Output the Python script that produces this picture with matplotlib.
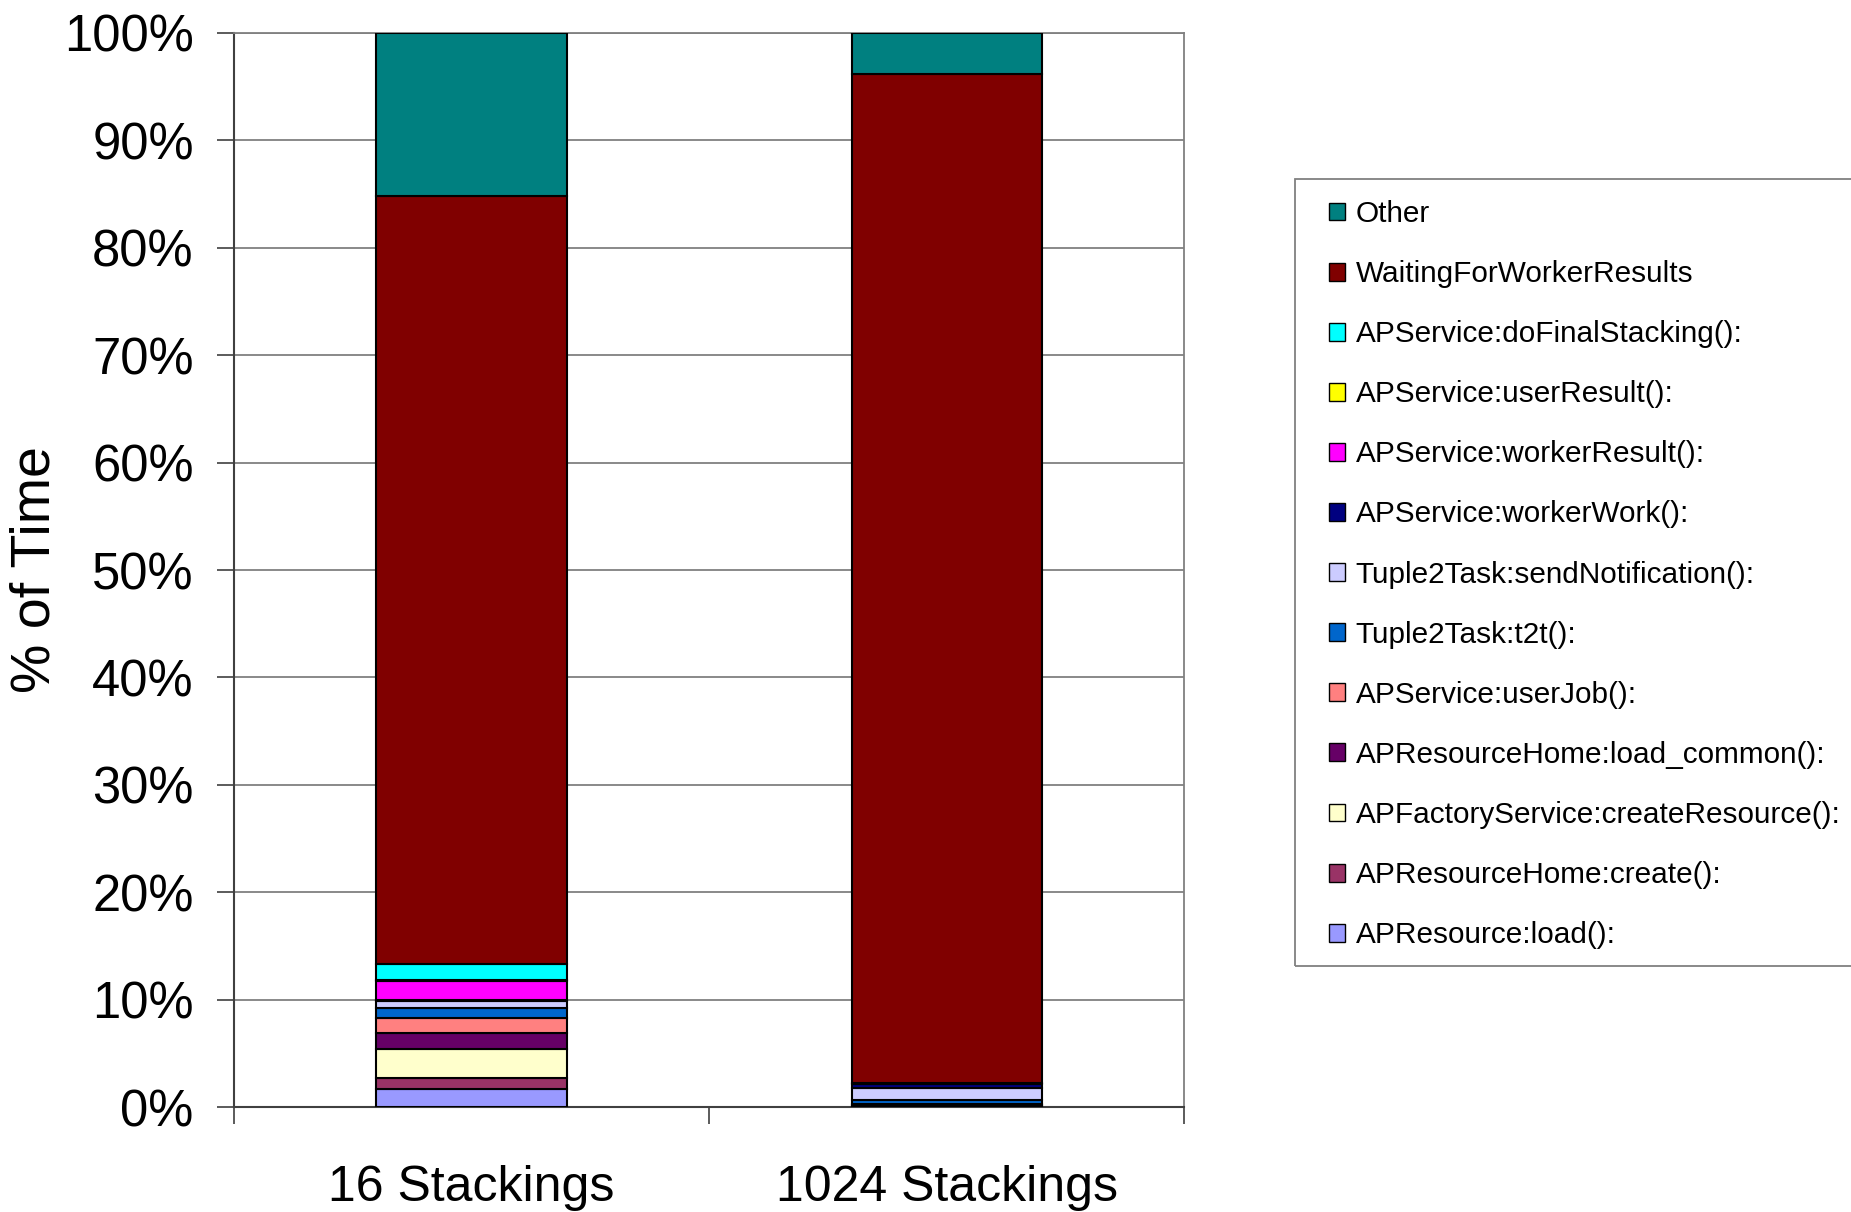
import matplotlib
matplotlib.use("Agg")
import matplotlib.pyplot as plt
import numpy as np
from matplotlib.patches import Patch, Rectangle

plt.rcParams['font.family'] = ['Liberation Sans', 'DejaVu Sans']

categories = ["16 Stackings", "1024 Stackings"]

# Series listed bottom-up (stack order)
series_names = [
    "APResource:load():",
    "APResourceHome:create():",
    "APFactoryService:createResource():",
    "APResourceHome:load_common():",
    "APService:userJob():",
    "Tuple2Task:t2t():",
    "Tuple2Task:sendNotification():",
    "APService:workerWork():",
    "APService:workerResult():",
    "APService:userResult():",
    "APService:doFinalStacking():",
    "WaitingForWorkerResults",
    "Other",
]

# Percent of time per series for [16 Stackings, 1024 Stackings]
load_vals = [1.65, 0.10]
create_vals = [1.05, 0.05]
create_resource_vals = [2.75, 0.05]
load_common_vals = [1.40, 0.05]
user_job_vals = [1.45, 0.05]
t2t_vals = [0.90, 0.40]
send_notification_vals = [0.70, 1.07]
worker_work_vals = [0.05, 0.40]
worker_result_vals = [1.80, 0.02]
user_result_vals = [0.05, 0.01]
do_final_stacking_vals = [1.50, 0.02]
waiting_vals = [71.55, 93.93]
other_vals = [15.15, 3.85]

values = [
    load_vals, create_vals, create_resource_vals, load_common_vals,
    user_job_vals, t2t_vals, send_notification_vals, worker_work_vals,
    worker_result_vals, user_result_vals, do_final_stacking_vals,
    waiting_vals, other_vals,
]

colors = [
    "#9999FF", "#993366", "#FFFFCC", "#660066", "#FF8080", "#0066CC",
    "#CCCCFF", "#000080", "#FF00FF", "#FFFF00", "#00FFFF", "#800000",
    "#008080",
]

W, H = 1851, 1212
fig = plt.figure(figsize=(W / 100, H / 100), dpi=100)
ax = fig.add_axes([0.1264, 0.0866, 0.5133, 0.8862])

x = np.arange(len(categories))
bottom = np.zeros(len(categories))
for name, vals, col in zip(series_names, values, colors):
    v = np.array(vals, dtype=float)
    ax.bar(x, v, width=0.4, bottom=bottom, color=col, edgecolor="black",
           linewidth=1.5, label=name, zorder=3)
    bottom += v

ax.set_xlim(-0.5, len(categories) - 0.5)
ax.set_ylim(0, 100)

ax.set_yticks(np.arange(0, 101, 10))
ax.set_yticklabels([f"{t}%" for t in range(0, 101, 10)], fontsize=36.5)
ax.yaxis.grid(True, color="#808080", linewidth=1.3, zorder=0)
ax.set_axisbelow(True)

# Category labels at centres, tick marks at category boundaries
ax.set_xticks(x)
ax.set_xticklabels(categories, fontsize=36)
ax.tick_params(axis="x", which="major", length=0, pad=42)
ax.set_xticks(np.arange(-0.5, len(categories), 1.0), minor=True)
ax.tick_params(axis="x", which="minor", length=12, width=1.2, color="#404040",
               direction="out")
ax.tick_params(axis="y", length=12, width=1.2, color="#404040", pad=17)

ax.set_ylabel("% of Time", fontsize=40)
ax.yaxis.set_label_coords(-0.182, 0.5)

for side in ("top", "right"):
    ax.spines[side].set_color("#808080")
    ax.spines[side].set_linewidth(1.3)
ax.spines["left"].set_color("#404040")
ax.spines["left"].set_linewidth(1.5)
ax.spines["bottom"].set_color("#404040")
ax.spines["bottom"].set_linewidth(1.5)

handles = [Patch(facecolor=c, edgecolor="black", linewidth=1.0)
           for c in colors][::-1]
labels = series_names[::-1]
leg = fig.legend(handles, labels, loc="upper left",
                 bbox_to_anchor=(1329 / W, 1 - 200 / H), fontsize=21.4,
                 frameon=False, handlelength=0.55, handleheight=0.55,
                 handletextpad=0.35, labelspacing=1.08, borderpad=0,
                 borderaxespad=0)

# Legend box, running off the right edge of the figure
fig.patches.append(Rectangle((1295 / W, 1 - 966 / H), 0.4, (966 - 179) / H,
                             transform=fig.transFigure, fill=False,
                             edgecolor="#808080", linewidth=1.3))

fig.savefig("out.png", dpi=100, facecolor="white")
